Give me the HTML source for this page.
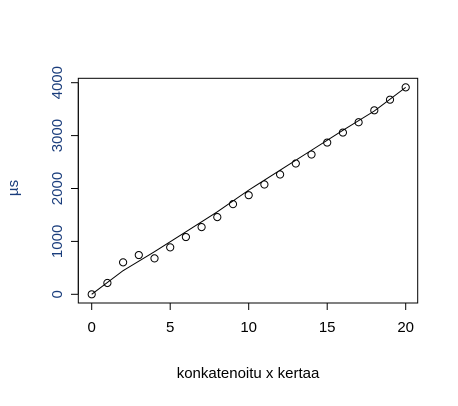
<!DOCTYPE html>
<html><head><meta charset="utf-8"><style>
body{margin:0;background:#fff}
svg text{font-family:"Liberation Sans",Arial,sans-serif;font-size:15px}
</style></head><body>
<svg width="458" height="401" viewBox="0 0 458 401">
<rect x="78.3" y="78.3" width="339.4" height="224.7" fill="none" stroke="#000" stroke-width="1"/>
<g id="xt"></g>
<g id="yt"></g>
<g id="ln"></g>
<g id="pts"></g>
<text x="248" y="378" text-anchor="middle" fill="#000">konkatenoitu x kertaa</text>
<text transform="translate(18,188) rotate(-90)" text-anchor="middle" fill="#1a3d7c">µs</text>
</svg>
<script>
const xs=[0,1,2,3,4,5,6,7,8,9,10,11,12,13,14,15,16,17,18,19,20];
const ys=[0,214,604,742,679,887,1082,1270,1459,1704,1874,2075,2264,2472,2642,2868,3057,3252,3478,3679,3912];
const lineX=[0,2,4,6,8,10,12,14,16,18,20];
const lineY=[0,447,805,1182,1560,1969,2346,2723,3100,3465,3912];
const xTicks=[0,5,10,15,20];
const yTicks=[0,1000,2000,3000,4000];
const NS="http://www.w3.org/2000/svg";
const sx=v=>91.7+v*15.7;
const sy=v=>294.3-v*0.0529;
function mk(t,a,p){const e=document.createElementNS(NS,t);for(const k in a)e.setAttribute(k,a[k]);p.appendChild(e);return e;}
const xt=document.getElementById('xt'),yt=document.getElementById('yt');
mk('line',{x1:sx(0),x2:sx(20),y1:303,y2:303,stroke:'#000'},xt);
xTicks.forEach(v=>{
 const l=mk('line',{x1:sx(v),x2:sx(v),y1:303,y2:310,stroke:'#000'},xt);
 
 
 const t=mk('text',{x:sx(v),y:332,'text-anchor':'middle',fill:'#000'},xt);t.textContent=v;
 
 
});
mk('line',{x1:78.3,x2:78.3,y1:sy(0),y2:sy(4000),stroke:'#000'},yt);
yTicks.forEach(v=>{
 const l=mk('line',{x1:71,x2:78.3,y1:sy(v),y2:sy(v),stroke:'#000'},yt);
 
 
 const t=mk('text',{transform:`translate(62,${sy(v)}) rotate(-90)`,'text-anchor':'middle',fill:'#1a3d7c'},yt);t.textContent=v;
 
 
});
const ln=document.getElementById('ln');
const pl=mk('polyline',{points:lineX.map((x,i)=>sx(x)+','+sy(lineY[i])).join(' '),fill:'none',stroke:'#000','stroke-width':1},ln);


const pts=document.getElementById('pts');
xs.forEach((x,i)=>{
 const c=mk('circle',{cx:sx(x),cy:sy(ys[i]),r:3.6,fill:'none',stroke:'#000','stroke-width':1},pts);
 
 
});
</script>
</body></html>
